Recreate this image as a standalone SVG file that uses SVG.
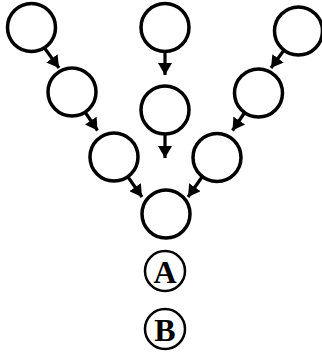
<svg xmlns="http://www.w3.org/2000/svg" width="322" height="364" viewBox="0 0 322 364">
<style>
.node{fill:#fff;stroke:#000;stroke-width:3.5}
.lab{fill:#fff;stroke:#000;stroke-width:2.5}
.edge{stroke:#000;stroke-width:3.2;fill:none}
.txt{font-family:"Liberation Serif","DejaVu Serif",serif;font-weight:bold;font-size:32px;text-anchor:middle;fill:#000}
</style>
<defs>
<marker id="ah" viewBox="0 0 12 14" refX="12" refY="7" markerWidth="12" markerHeight="14" markerUnits="userSpaceOnUse" orient="auto">
<path d="M0,0 L12,7 L0,14 Z" fill="#000"/>
</marker>
</defs>
<g id="connectors">
<line class="edge" x1="44.5" y1="48" x2="59" y2="68" marker-end="url(#ah)"/>
<line class="edge" x1="85" y1="112" x2="97.5" y2="130.5" marker-end="url(#ah)"/>
<line class="edge" x1="128" y1="177" x2="142" y2="197" marker-end="url(#ah)"/>
<line class="edge" x1="165" y1="52" x2="165" y2="75" marker-end="url(#ah)"/>
<line class="edge" x1="165" y1="135" x2="165" y2="158" marker-end="url(#ah)"/>
<line class="edge" x1="285.5" y1="48" x2="271" y2="68" marker-end="url(#ah)"/>
<line class="edge" x1="245" y1="112" x2="232.5" y2="130.5" marker-end="url(#ah)"/>
<line class="edge" x1="202" y1="177" x2="188" y2="197" marker-end="url(#ah)"/>
</g>
<g id="n1"><circle class="node" cx="31.5" cy="27.5" r="24"/></g>
<g id="n2"><circle class="node" cx="72" cy="92" r="24"/></g>
<g id="n3"><circle class="node" cx="114" cy="157" r="24"/></g>
<g id="n4"><circle class="node" cx="165" cy="27.5" r="24"/></g>
<g id="n5"><circle class="node" cx="165" cy="110" r="24"/></g>
<g id="n6"><circle class="node" cx="298.5" cy="31" r="24"/></g>
<g id="n7"><circle class="node" cx="258.5" cy="93" r="24"/></g>
<g id="n8"><circle class="node" cx="217" cy="157.5" r="24"/></g>
<g id="n9"><circle class="node" cx="166" cy="214" r="24"/></g>
<g id="nA"><circle class="lab" cx="165" cy="271" r="20"/><text class="txt" x="165" y="282.5">A</text></g>
<g id="nB"><circle class="lab" cx="165" cy="329" r="20"/><text class="txt" x="165" y="340.5">B</text></g>
</svg>
